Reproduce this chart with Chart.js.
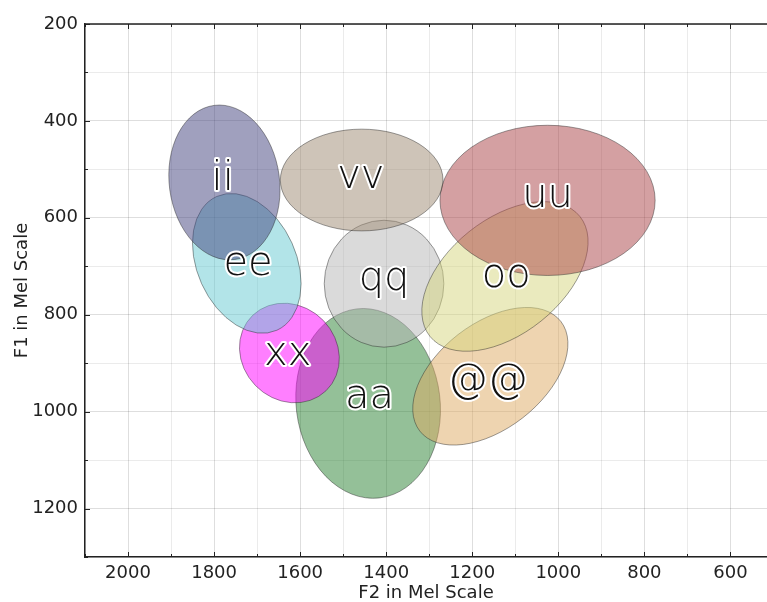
<!DOCTYPE html>
<html>
<head>
<meta charset="utf-8">
<script src="https://cdn.jsdelivr.net/npm/chart.js@4.4.1/dist/chart.umd.min.js"></script>
<style>
  html, body { margin: 0; padding: 0; background: #fff; }
  #wrap { width: 767px; height: 602px; }
</style>
</head>
<body>
<div id="wrap"><canvas id="vowels" width="767" height="602"></canvas></div>
<script>
// Vowel categories, in drawing order
const vowels = ['aa', '@@', 'qq', 'oo', 'uu', 'vv', 'xx', 'ee', 'ii'];

// Ellipse centres (F2, F1) in mel
const centerF2 = [1442, 1158, 1405, 1124, 1025, 1457, 1625, 1724, 1776];
const centerF1 = [983, 927, 736, 721, 564, 522, 879, 694, 527];

// Two conjugate half-axes of each ellipse, in mel (dF2, dF1)
const axisA_F2 = [-27, -164, 139, -174, 250, 189, -85, -70, 24];
const axisA_F1 = [195, -113, 0, -124, 0, 0, 78, 138, -159];
const axisB_F2 = [166, -75, 0, -84, 0, 0, 79, 105, -127];
const axisB_F1 = [18, 86, 131, 92, 155, 105, 67, 42, -15];

// Where each vowel label sits (text baseline), in mel
const labelF2 = [1439, 1164, 1405, 1121, 1025, 1459, 1629, 1721, 1780];
const labelF1 = [992, 959, 749, 743, 578, 538, 904, 718, 542];

// Fill colours (drawn at half opacity)
const fills = [
  'rgba(41,129,49,0.5)',
  'rgba(221,169,97,0.5)',
  'rgba(181,181,181,0.5)',
  'rgba(213,213,125,0.5)',
  'rgba(169,65,69,0.5)',
  'rgba(157,137,113,0.5)',
  'rgba(255,0,255,0.5)',
  'rgba(101,201,209,0.5)',
  'rgba(65,65,125,0.5)'
];

// Axis ranges and tick values
const f2Range = [515, 2100];
const f1Range = [200, 1300];
const f2Ticks = [600, 700, 800, 900, 1000, 1100, 1200, 1300, 1400, 1500, 1600, 1700, 1800, 1900, 2000, 2100];
const f1Ticks = [200, 300, 400, 500, 600, 700, 800, 900, 1000, 1100, 1200, 1300];
const xTitle = 'F2 in Mel Scale';
const yTitle = 'F1 in Mel Scale';

Chart.defaults.font.family = "'DejaVu Sans', sans-serif";
const INK = '#222';

const gridColor = (ctx) => (ctx.tick && ctx.tick.value % 200 === 0) ? 'rgba(0,0,0,0.13)' : 'rgba(0,0,0,0.08)';
const majorLabel = (v) => (v % 200 === 0 ? String(v) : '');

const ellipsePlugin = {
  id: 'ellipses',
  beforeDraw(chart) {
    const c = chart.ctx;
    c.save();
    c.fillStyle = '#fff';
    c.fillRect(0, 0, chart.width, chart.height);
    c.restore();
  },
  beforeDatasetsDraw(chart) {
    const c = chart.ctx, xs = chart.scales.x, ys = chart.scales.y, a = chart.chartArea;
    c.save();
    c.beginPath();
    c.rect(a.left, a.top, a.right - a.left, a.bottom - a.top);
    c.clip();
    vowels.forEach((v, i) => {
      const px = xs.getPixelForValue(centerF2[i]);
      const py = ys.getPixelForValue(centerF1[i]);
      const ax = xs.getPixelForValue(centerF2[i] + axisA_F2[i]) - px;
      const ay = ys.getPixelForValue(centerF1[i] + axisA_F1[i]) - py;
      const bx = xs.getPixelForValue(centerF2[i] + axisB_F2[i]) - px;
      const by = ys.getPixelForValue(centerF1[i] + axisB_F1[i]) - py;
      c.beginPath();
      c.save();
      c.transform(ax, ay, bx, by, px, py);
      c.arc(0, 0, 1, 0, Math.PI * 2);
      c.restore();
      c.fillStyle = fills[i];
      c.fill();
      c.lineWidth = 1;
      c.strokeStyle = 'rgba(40,40,40,0.45)';
      c.stroke();
    });
    c.restore();
  },
  afterDatasetsDraw(chart) {
    const c = chart.ctx, xs = chart.scales.x, ys = chart.scales.y;
    c.save();
    c.font = "200 40px 'DejaVu Sans ExtraLight', 'DejaVu Sans Light', 'DejaVu Sans', sans-serif";
    c.textAlign = 'center';
    c.textBaseline = 'alphabetic';
    c.lineJoin = 'round';
    vowels.forEach((v, i) => {
      const x = xs.getPixelForValue(labelF2[i]);
      const y = ys.getPixelForValue(labelF1[i]);
      c.lineWidth = 4;
      c.strokeStyle = '#fff';
      c.strokeText(v, x, y);
      c.fillStyle = '#111';
      c.fillText(v, x, y);
    });
    c.restore();
  },
  afterDraw(chart) {
    const c = chart.ctx, xs = chart.scales.x, ys = chart.scales.y, a = chart.chartArea;
    c.save();
    c.strokeStyle = INK;
    c.lineWidth = 1;
    // inward tick marks on bottom, top and left
    f2Ticks.forEach((v) => {
      const x = Math.round(xs.getPixelForValue(v)) + 0.5;
      const len = v % 200 === 0 ? 5 : 3;
      c.beginPath();
      c.moveTo(x, a.bottom); c.lineTo(x, a.bottom - len);
      c.moveTo(x, a.top); c.lineTo(x, a.top + len);
      c.stroke();
    });
    f1Ticks.forEach((v) => {
      const y = Math.round(ys.getPixelForValue(v)) + 0.5;
      const len = v % 200 === 0 ? 5 : 3;
      c.beginPath();
      c.moveTo(a.left, y); c.lineTo(a.left + len, y);
      c.stroke();
    });
    // top frame line
    c.lineWidth = 1.5;
    c.beginPath();
    c.moveTo(a.left, a.top); c.lineTo(a.right, a.top);
    c.stroke();
    // axis titles
    c.fillStyle = INK;
    c.font = "18px 'DejaVu Sans', sans-serif";
    c.textAlign = 'center';
    c.textBaseline = 'alphabetic';
    c.fillText(xTitle, (a.left + a.right) / 2, 598);
    c.translate(27, (a.top + a.bottom) / 2);
    c.rotate(-Math.PI / 2);
    c.fillText(yTitle, 0, 0);
    c.restore();
  }
};

new Chart(document.getElementById('vowels'), {
  type: 'scatter',
  data: {
    datasets: vowels.map((v, i) => ({
      label: v,
      data: [{ x: centerF2[i], y: centerF1[i] }],
      pointRadius: 0,
      pointHoverRadius: 0
    }))
  },
  options: {
    responsive: false,
    animation: false,
    events: [],
    layout: { padding: { top: 24, right: 0, left: 0, bottom: 0 } },
    plugins: { legend: { display: false }, tooltip: { enabled: false } },
    scales: {
      x: {
        type: 'linear',
        reverse: true,
        min: f2Range[0],
        max: f2Range[1],
        afterBuildTicks: (s) => { s.ticks = f2Ticks.map((v) => ({ value: v })); },
        afterFit: (s) => { s.height = 45; },
        ticks: { callback: majorLabel, color: INK, font: { size: 18 }, padding: 6, autoSkip: false, maxRotation: 0 },
        grid: { color: gridColor, drawTicks: false, lineWidth: 1 },
        border: { display: true, color: INK, width: 1.5 }
      },
      y: {
        type: 'linear',
        reverse: true,
        min: f1Range[0],
        max: f1Range[1],
        afterBuildTicks: (s) => { s.ticks = f1Ticks.map((v) => ({ value: v })); },
        afterFit: (s) => { s.width = 85; },
        ticks: { callback: majorLabel, color: INK, font: { size: 18 }, padding: 7, autoSkip: false },
        grid: { color: gridColor, drawTicks: false, lineWidth: 1 },
        border: { display: true, color: INK, width: 1.5 }
      }
    }
  },
  plugins: [ellipsePlugin]
});
</script>
</body>
</html>
